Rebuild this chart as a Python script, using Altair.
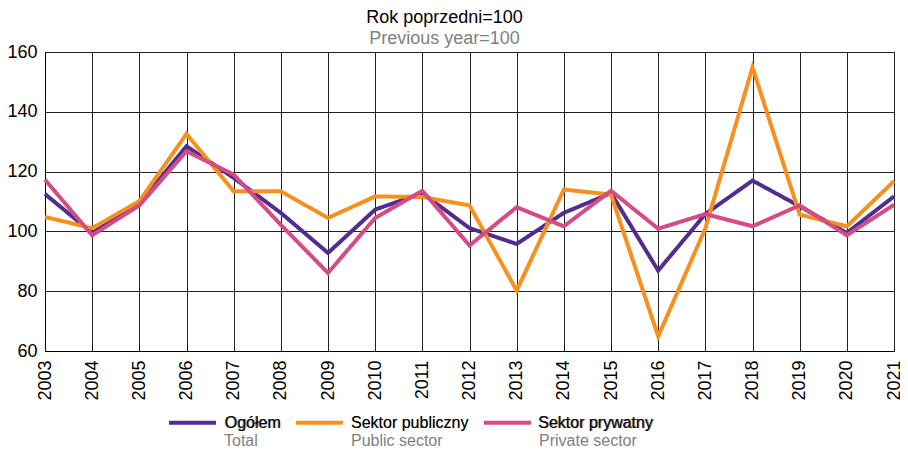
import altair as alt
import pandas as pd

years = list(range(2003, 2022))
total = [112.5, 99.5, 109.2, 128.5, 117.9, 106.2, 92.8, 107.3, 112.8, 101.1,
         95.8, 106.2, 112.8, 86.9, 105.8, 117.0, 108.4, 99.5, 111.7]
public = [104.8, 101.1, 110.1, 132.6, 113.4, 113.4, 104.5, 111.7, 111.5, 108.7,
          80.2, 114.0, 112.3, 64.9, 101.0, 154.9, 105.6, 101.7, 116.8]
private = [117.3, 98.7, 108.7, 126.8, 119.0, 102.2, 86.1, 104.5, 113.6, 95.3,
           108.1, 101.7, 113.6, 100.9, 105.8, 101.7, 108.7, 98.7, 108.9]
series_pl = ["Ogółem", "Sektor publiczny", "Sektor prywatny"]
series_en = ["Total", "Public sector", "Private sector"]
y_ticks = [60, 80, 100, 120, 140, 160]
colors = ["#512D8F", "#F7901E", "#D54B85"]

FONT = "Liberation Sans"

rows = []
for pl, en, vals in zip(series_pl, series_en, [total, public, private]):
    for yr, v in zip(years, vals):
        rows.append({"year": yr, "value": v, "series": pl, "series_en": en})
df = pd.DataFrame(rows)

# two-line labels (Polish / English) for the coloured legend (grey)
label_expr_a = " : ".join(
    f"datum.label == '{pl}' ? ['{pl}', '{en}']"
    for pl, en in zip(series_pl[:-1], series_en[:-1])
) + f" : ['{series_pl[-1]}', '{series_en[-1]}']"
# black Polish line laid exactly over the first line of the coloured legend
label_expr_b = " : ".join(
    f"datum.label == '{en}' ? ['{pl}', ' ']"
    for pl, en in zip(series_pl[:-1], series_en[:-1])
) + f" : ['{series_pl[-1]}', ' ']"

legend_common = dict(
    orient="none", legendX=122, legendY=345, direction="horizontal", title=None,
    symbolType="stroke", symbolSize=2209, symbolStrokeWidth=4,
    labelFont=FONT, labelFontSize=16, labelBaseline="middle",
)

legend_a = alt.Legend(
    labelColor="#808080", labelExpr=label_expr_a,
    labelOffset=6, columnPadding=7,
    **legend_common,
)
legend_b = alt.Legend(
    labelColor="black", labelExpr=label_expr_b, symbolOpacity=0,
    labelOffset=7, columnPadding=11,
    **legend_common,
)

chart = alt.Chart(df).mark_line(strokeWidth=4).encode(
    x=alt.X("year:O", scale=alt.Scale(type="point", padding=0),
            axis=alt.Axis(title=None, labelAngle=-90, grid=True, ticks=False,
                          tickSize=0, labelPadding=9)),
    y=alt.Y("value:Q", scale=alt.Scale(domain=[60, 160], nice=False, zero=False),
            axis=alt.Axis(title=None, values=y_ticks, grid=True, ticks=False,
                          tickSize=0, labelPadding=8)),
    color=alt.Color("series:N", sort=series_pl,
                    scale=alt.Scale(domain=series_pl, range=colors),
                    legend=legend_a),
    strokeDash=alt.StrokeDash("series_en:N", sort=series_en,
                              scale=alt.Scale(domain=series_en, range=[[1, 0]] * 3),
                              legend=legend_b),
).properties(
    width=849, height=299,
    title=alt.TitleParams(
        text="Rok poprzedni=100", subtitle="Previous year=100",
        font=FONT, subtitleFont=FONT, fontSize=18, subtitleFontSize=18,
        fontWeight="normal", color="black", subtitleColor="#808080",
        anchor="middle", dx=-25, offset=-5, subtitlePadding=3,
    ),
    autosize=alt.AutoSizeParams(type="none"),
    padding={"left": 37, "top": 44, "right": 6, "bottom": 98},
).configure_view(
    stroke="black", strokeWidth=1,
).configure_axis(
    labelFont=FONT, labelFontSize=18, labelColor="black",
    gridColor="#222222", gridWidth=1, gridOpacity=1,
    domainColor="black", domainWidth=1,
)

chart.save("out.html", embed_options={"renderer": "svg", "actions": False})
